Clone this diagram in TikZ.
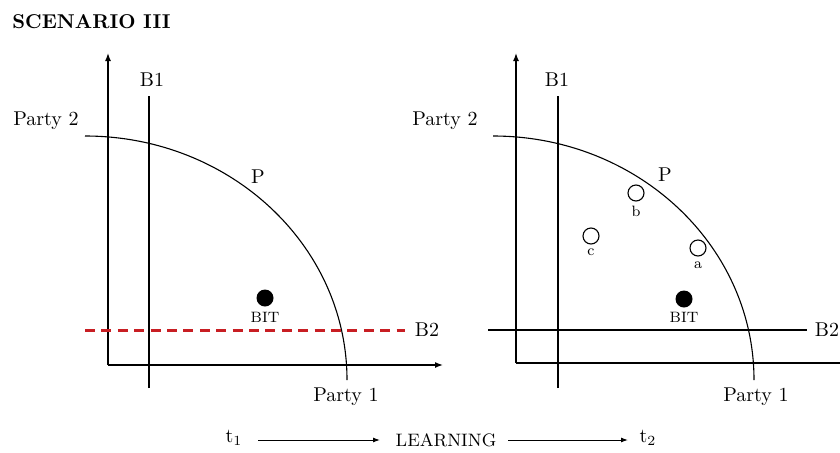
\documentclass[tikz,border=0pt]{standalone}
\usetikzlibrary{arrows.meta}
\definecolor{bred}{RGB}{200,30,35}
\begin{document}
\begin{tikzpicture}[x=0.5pt,y=0.5pt,
  axis/.style={line width=0.7pt,-{Latex[length=4pt,width=3pt]}},
  thin line/.style={line width=0.6pt},
  front/.style={line width=0.55pt},
  lbl/.style={font=\fontsize{10}{12}\selectfont,inner sep=1pt},
  small lbl/.style={font=\fontsize{7.5}{9}\selectfont,inner sep=0.5pt},
  opt/.style={circle,draw,line width=0.55pt,minimum size=8pt,inner sep=0pt},
  bit/.style={circle,fill=black,minimum size=8.5pt,inner sep=0pt},
  tarrow/.style={line width=0.5pt,-{Latex[length=3.5pt,width=2.5pt]}}]
\useasboundingbox (0,0) rectangle (840,452);
% title
\node[anchor=west,font=\bfseries\fontsize{10}{12}\selectfont,inner sep=0pt] (title) at (12,430) {SCENARIO III};

% ---------- left panel ----------
\coordinate (lo) at (108,87);
\coordinate (ly) at (108,399);
\coordinate (lx) at (443,87);
\draw[axis] (lo) -- (ly);
\draw[axis] (lo) -- (lx);
\coordinate (lb1b) at (149,64);
\coordinate (lb1t) at (149,356);
\draw[thin line] (lb1b) -- (lb1t);
\node[lbl] (lB1) at (152,372) {B1};
\node[lbl] (lP2) at (46,331) {Party 2};
\node[lbl] (lP1) at (346,55) {Party 1};
\coordinate (lcs) at (85,316);
\draw[front] (lcs) arc[start angle=90,end angle=0,x radius=262,y radius=244];
\node[lbl] (lP) at (258,275) {P};
\coordinate (lb2s) at (85,122);
\coordinate (lb2e) at (405,122);
\draw[bred,line width=1.5pt,dash pattern=on 5pt off 3.2pt] (lb2s) -- (lb2e);
\node[lbl] (lB2) at (427,122) {B2};
\node[bit] (lbit) at (265,154) {};
\node[small lbl] (lbitl) at (265,135) {BIT};

% ---------- right panel ----------
\coordinate (ro) at (516,89);
\coordinate (ry) at (516,399);
\coordinate (rx) at (841,89);
\draw[axis] (ro) -- (ry);
\draw[line width=0.7pt] (ro) -- (rx);
\coordinate (rb1b) at (558,64);
\coordinate (rb1t) at (558,356);
\draw[thin line] (rb1b) -- (rb1t);
\node[lbl] (rB1) at (557,372) {B1};
\node[lbl] (rP2) at (445,331) {Party 2};
\node[lbl] (rP1) at (756,55) {Party 1};
\coordinate (rcs) at (493,316);
\draw[front] (rcs) arc[start angle=90,end angle=0,x radius=261,y radius=244];
\node[lbl] (rP) at (665,277) {P};
\coordinate (rb2s) at (488,122);
\coordinate (rb2e) at (807,122);
\draw[thin line] (rb2s) -- (rb2e);
\node[lbl] (rB2) at (827,122) {B2};
\node[opt] (ob) at (636,259) {};
\node[small lbl] (obl) at (636,241) {b};
\node[opt] (oc) at (591,216) {};
\node[small lbl] (ocl) at (591,200) {c};
\node[opt] (oa) at (698,204) {};
\node[small lbl] (oal) at (698,187) {a};
\node[bit] (rbit) at (684,153) {};
\node[small lbl] (rbitl) at (684,135) {BIT};

% ---------- bottom ----------
\node[lbl] (t1) at (234,14) {t$_1$};
\node[font=\fontsize{9}{11}\selectfont,inner sep=1pt] (learn) at (446,12) {LEARNING};
\node[lbl] (t2) at (648,14) {t$_2$};
\coordinate (a1s) at (258,12);
\coordinate (a1e) at (380,12);
\coordinate (a2s) at (508,12);
\coordinate (a2e) at (628,12);
\draw[tarrow] (a1s) -- (a1e);
\draw[tarrow] (a2s) -- (a2e);
\end{tikzpicture}
\end{document}
